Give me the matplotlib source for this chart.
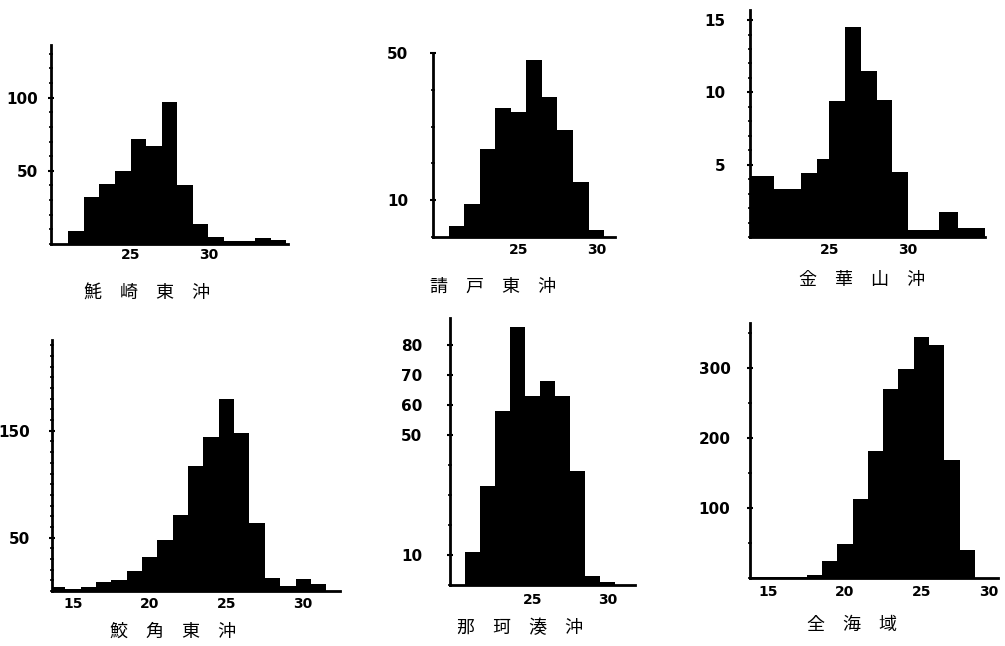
import matplotlib
matplotlib.use("Agg")
import matplotlib.pyplot as plt
from matplotlib.ticker import MultipleLocator

W, H = 1005, 646
CJK = ["Noto Sans CJK JP", "DejaVu Sans"]

# ---------------- data ----------------
# 1 魹崎東沖 : unit bins, left edges
p1_title = "魹　崎　東　沖"
p1_left = [21, 22, 23, 24, 25, 26, 27, 28, 29, 30, 31, 32, 33, 34]
p1_count = [9, 32, 41, 50, 72, 67, 97, 40, 14, 5, 2, 2, 4, 3]
p1_yticks = [50, 100]
p1_xticks = [25, 30]

# 2 請戸東沖 : unit bins, centres
p2_title = "請　戸　東　沖"
p2_center = [21, 22, 23, 24, 25, 26, 27, 28, 29, 30]
p2_count = [3, 9, 24, 35, 34, 48, 38, 29, 15, 2]
p2_yticks = [10, 50]
p2_xticks = [25, 30]

# 3 金華山沖 : irregular bin edges
p3_title = "金　華　山　沖"
p3_edges = [20, 21.5, 23.2, 24.2, 25, 26, 27, 28, 29, 30, 32, 33.2, 35]
p3_count = [4.2, 3.3, 4.4, 5.4, 9.4, 14.5, 11.5, 9.5, 4.5, 0.5, 1.7, 0.6]
p3_yticks = [5, 10, 15]
p3_xticks = [25, 30]

# 4 鮫角東沖 : unit bins, centres
p4_title = "鮫　角　東　沖"
p4_center = [14, 15, 16, 17, 18, 19, 20, 21, 22, 23, 24, 25, 26, 27, 28, 29, 30, 31]
p4_count = [4, 2, 4, 8, 10, 19, 32, 48, 71, 117, 144, 180, 148, 64, 12, 5, 11, 7]
p4_yticks = [50, 150]
p4_xticks = [15, 20, 25, 30]

# 5 那珂湊沖 : unit bins, centres
p5_title = "那　珂　湊　沖"
p5_center = [21, 22, 23, 24, 25, 26, 27, 28, 29, 30]
p5_count = [11, 33, 58, 86, 63, 68, 63, 38, 3, 1]
p5_yticks = [10, 50, 60, 70, 80]
p5_xticks = [25, 30]

# 6 全海域 : unit bins, centres
p6_title = "全　海　域"
p6_center = [14, 15, 16, 17, 18, 19, 20, 21, 22, 23, 24, 25, 26, 27, 28]
p6_count = [1, 1, 1, 2, 5, 24, 48, 113, 182, 270, 299, 345, 333, 169, 40]
p6_yticks = [100, 200, 300]
p6_xticks = [15, 20, 25, 30]

fig = plt.figure(figsize=(W / 100, H / 100), dpi=100)
fig.patch.set_facecolor("white")


def make_ax(left, top, right, bottom):
    return fig.add_axes([left / W, 1 - bottom / H, (right - left) / W, (bottom - top) / H])


def style(ax, xlim, ylim, yticks, xticks, minor, ypad, xpad, yfs=11, xfs=10):
    ax.set_xlim(*xlim)
    ax.set_ylim(*ylim)
    for s in ("top", "right"):
        ax.spines[s].set_visible(False)
    for s in ("left", "bottom"):
        ax.spines[s].set_linewidth(2.0)
        ax.spines[s].set_color("black")
    ax.set_yticks(yticks)
    ax.set_yticklabels([str(v) for v in yticks], fontweight="bold", fontsize=yfs)
    ax.set_xticks(xticks)
    ax.set_xticklabels([str(v) for v in xticks], fontweight="bold", fontsize=xfs)
    ax.yaxis.set_minor_locator(MultipleLocator(minor))
    ax.tick_params(axis="y", which="major", direction="inout", length=4, width=1.5, pad=ypad)
    ax.tick_params(axis="y", which="minor", direction="inout", length=3, width=1.2)
    ax.tick_params(axis="x", which="both", length=0, pad=xpad)
    ax.set_facecolor("white")


def title(x, y, text):
    fig.text(x / W, 1 - y / H, text, ha="center", va="center", fontsize=13, family=CJK)


# panel 1
ax = make_ax(51, 45, 288, 244)
ax.bar(p1_left, p1_count, width=1.0, align="edge", color="black", linewidth=0)
style(ax, (19.9, 35.1), (0, 136), p1_yticks, p1_xticks, 10, 7, 3)
title(147, 293, p1_title)

# panel 2
ax = make_ax(433, 53, 615, 237)
ax.bar(p2_center, p2_count, width=1.0, color="black", linewidth=0)
style(ax, (19.5, 31.2), (0, 50), p2_yticks, p2_xticks, 10, 16, 4)
title(493, 287, p2_title)

# panel 3
ax = make_ax(750, 10, 985, 237)
widths = [b - a for a, b in zip(p3_edges[:-1], p3_edges[1:])]
ax.bar(p3_edges[:-1], p3_count, width=widths, align="edge", color="black", linewidth=0)
style(ax, (19.95, 34.9), (0, 15.7), p3_yticks, p3_xticks, 1, 16, 4)
title(862, 280, p3_title)

# panel 4
ax = make_ax(52, 340, 340, 591)
ax.bar(p4_center, p4_count, width=1.0, color="black", linewidth=0)
style(ax, (13.63, 32.4), (0, 235), p4_yticks, p4_xticks, 10, 14, 4)
title(173, 632, p4_title)

# panel 5
ax = make_ax(450, 318, 635, 585)
ax.bar(p5_center, p5_count, width=1.0, color="black", linewidth=0)
style(ax, (19.5, 31.8), (0, 89), p5_yticks, p5_xticks, 10, 18, 6)
title(520, 628, p5_title)

# panel 6
ax = make_ax(750, 323, 998, 578)
ax.bar(p6_center, p6_count, width=1.0, color="black", linewidth=0)
style(ax, (13.8, 30.0), (0, 365), p6_yticks, p6_xticks, 50, 12, 5)
last = ax.get_xticklabels()[-1]
last.set_horizontalalignment("right")
title(852, 625, p6_title)

fig.savefig("out.png", dpi=100, facecolor="white")
